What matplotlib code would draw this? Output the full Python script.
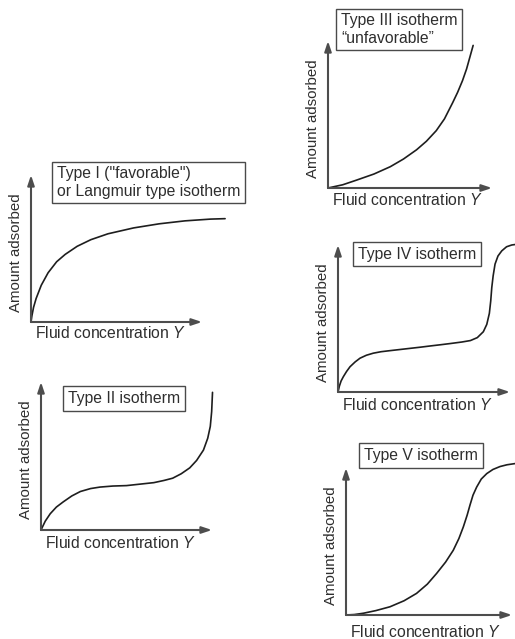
import matplotlib
matplotlib.use("Agg")
import matplotlib.pyplot as plt

plt.rcParams["font.family"] = ["Liberation Sans", "DejaVu Sans"]
plt.rcParams["mathtext.fontset"] = "custom"
plt.rcParams["mathtext.it"] = "Liberation Sans:italic"
plt.rcParams["mathtext.rm"] = "Liberation Sans"

W, H = 515, 639
TEXT = "#2e2e2e"
AXIS = "#4d4d4d"
CURVE = "#1e1e1e"
FS = 11.3     # horizontal labels and box titles
FS_Y = 10.8   # rotated axis labels

# isotherm shapes, x = fluid concentration, y = amount adsorbed (axis length = 1)
type1_x = [0, 0.005, 0.015, 0.03, 0.06, 0.10, 0.15, 0.20, 0.27, 0.35, 0.45, 0.60, 0.75, 0.90, 1.05, 1.135]
type1_y = [0, 0.04, 0.10, 0.16, 0.25, 0.335, 0.41, 0.46, 0.515, 0.56, 0.60, 0.64, 0.668, 0.688, 0.70, 0.703]

type2_x = [0, 0.025, 0.054, 0.09, 0.13, 0.18, 0.23, 0.29, 0.345, 0.42, 0.50, 0.58, 0.66, 0.72, 0.77,
           0.82, 0.87, 0.91, 0.95, 0.975, 0.99, 0.998, 1.003]
type2_y = [0, 0.06, 0.11, 0.155, 0.19, 0.23, 0.26, 0.28, 0.29, 0.297, 0.30, 0.31, 0.32, 0.335, 0.35,
           0.38, 0.42, 0.47, 0.54, 0.62, 0.70, 0.80, 0.93]

type3_x = [0, 0.09, 0.175, 0.28, 0.38, 0.46, 0.54, 0.60, 0.66, 0.71, 0.76, 0.79, 0.82, 0.845, 0.865, 0.885]
type3_y = [0, 0.022, 0.054, 0.095, 0.145, 0.197, 0.26, 0.318, 0.39, 0.47, 0.58, 0.65, 0.73, 0.81, 0.89, 0.97]

type4_x = [0, 0.008, 0.018, 0.031, 0.05, 0.07, 0.10, 0.128, 0.165, 0.205, 0.25, 0.30, 0.36, 0.42, 0.48,
           0.535, 0.60, 0.655, 0.72, 0.77, 0.81, 0.845, 0.865, 0.88, 0.888, 0.894, 0.902, 0.913, 0.93,
           0.952, 0.98, 1.01, 1.04]
type4_y = [0, 0.04, 0.075, 0.104, 0.14, 0.172, 0.205, 0.23, 0.25, 0.264, 0.274, 0.281, 0.289, 0.297, 0.305,
           0.313, 0.322, 0.33, 0.34, 0.35, 0.37, 0.41, 0.46, 0.535, 0.62, 0.71, 0.79, 0.87, 0.925,
           0.96, 0.988, 1.0, 1.005]

type5_x = [0, 0.05, 0.105, 0.18, 0.265, 0.35, 0.425, 0.49, 0.546, 0.60, 0.646, 0.68, 0.707, 0.73, 0.747,
           0.765, 0.787, 0.815, 0.848, 0.885, 0.928, 0.97, 1.018]
type5_y = [0, 0.003, 0.012, 0.03, 0.056, 0.097, 0.147, 0.21, 0.283, 0.36, 0.44, 0.52, 0.60, 0.68, 0.748,
           0.815, 0.87, 0.925, 0.962, 0.99, 1.01, 1.022, 1.03]

# (origin x, origin y, x-axis tip, y-axis top) in pixels, plus label offsets and box text
panels = [
    dict(o=(31, 322), xt=202, yt=175, xs=type1_x, ys=type1_y, xl_dy=11,
         title='Type I ("favorable")\nor Langmuir type isotherm', tb=(57, 182.5)),
    dict(o=(41, 530), xt=212, yt=382, xs=type2_x, ys=type2_y, xl_dy=13,
         title="Type II isotherm", tb=(68, 398.5)),
    dict(o=(328, 188), xt=492, yt=41, xs=type3_x, ys=type3_y, xl_dy=12,
         title="Type III isotherm\n\u201cunfavorable\u201d", tb=(341, 29.5)),
    dict(o=(338, 392), xt=510, yt=245, xs=type4_x, ys=type4_y, xl_dy=13,
         title="Type IV isotherm", tb=(358, 254)),
    dict(o=(346, 615), xt=512, yt=468, xs=type5_x, ys=type5_y, xl_dy=17,
         title="Type V isotherm", tb=(364, 455.5)),
]


def fx(x):
    return x / W


def fy(y):
    return 1 - y / H


fig = plt.figure(figsize=(W / 100, H / 100), dpi=100)
fig.patch.set_facecolor("white")

for p in panels:
    ox, oy = p["o"]
    w = p["xt"] - ox
    h = oy - p["yt"]
    ax = fig.add_axes([fx(ox), fy(oy), w / W, h / H])
    ax.set_xlim(0, 1)
    ax.set_ylim(0, 1)
    ax.axis("off")

    arrow = dict(arrowstyle="-|>,head_length=0.6,head_width=0.2", color=AXIS,
                 lw=1.5, shrinkA=0, shrinkB=0)
    ax.annotate("", xy=(1, 0), xytext=(0, 0), xycoords="axes fraction",
                arrowprops=arrow, annotation_clip=False)
    ax.annotate("", xy=(0, 1), xytext=(0, 0), xycoords="axes fraction",
                arrowprops=arrow, annotation_clip=False)

    ax.plot(p["xs"], p["ys"], color=CURVE, lw=1.2, clip_on=False,
            solid_capstyle="round", solid_joinstyle="round")

    fig.text(fx(ox + 4), fy(oy + p["xl_dy"]), r"Fluid concentration $Y$",
             fontsize=FS, color=TEXT, ha="left", va="center")
    fig.text(fx(ox - 15), fy((oy + p["yt"]) / 2 + 4), "Amount adsorbed",
             fontsize=FS_Y, color=TEXT, rotation=90, ha="center", va="center")

    tx, ty = p["tb"]
    fig.text(fx(tx), fy(ty), p["title"], fontsize=FS, color=TEXT,
             ha="left", va="center", linespacing=1.2,
             bbox=dict(boxstyle="square,pad=0.3", fc="white", ec="#4a4a4a", lw=1.0))

fig.savefig("out.png", dpi=100)
